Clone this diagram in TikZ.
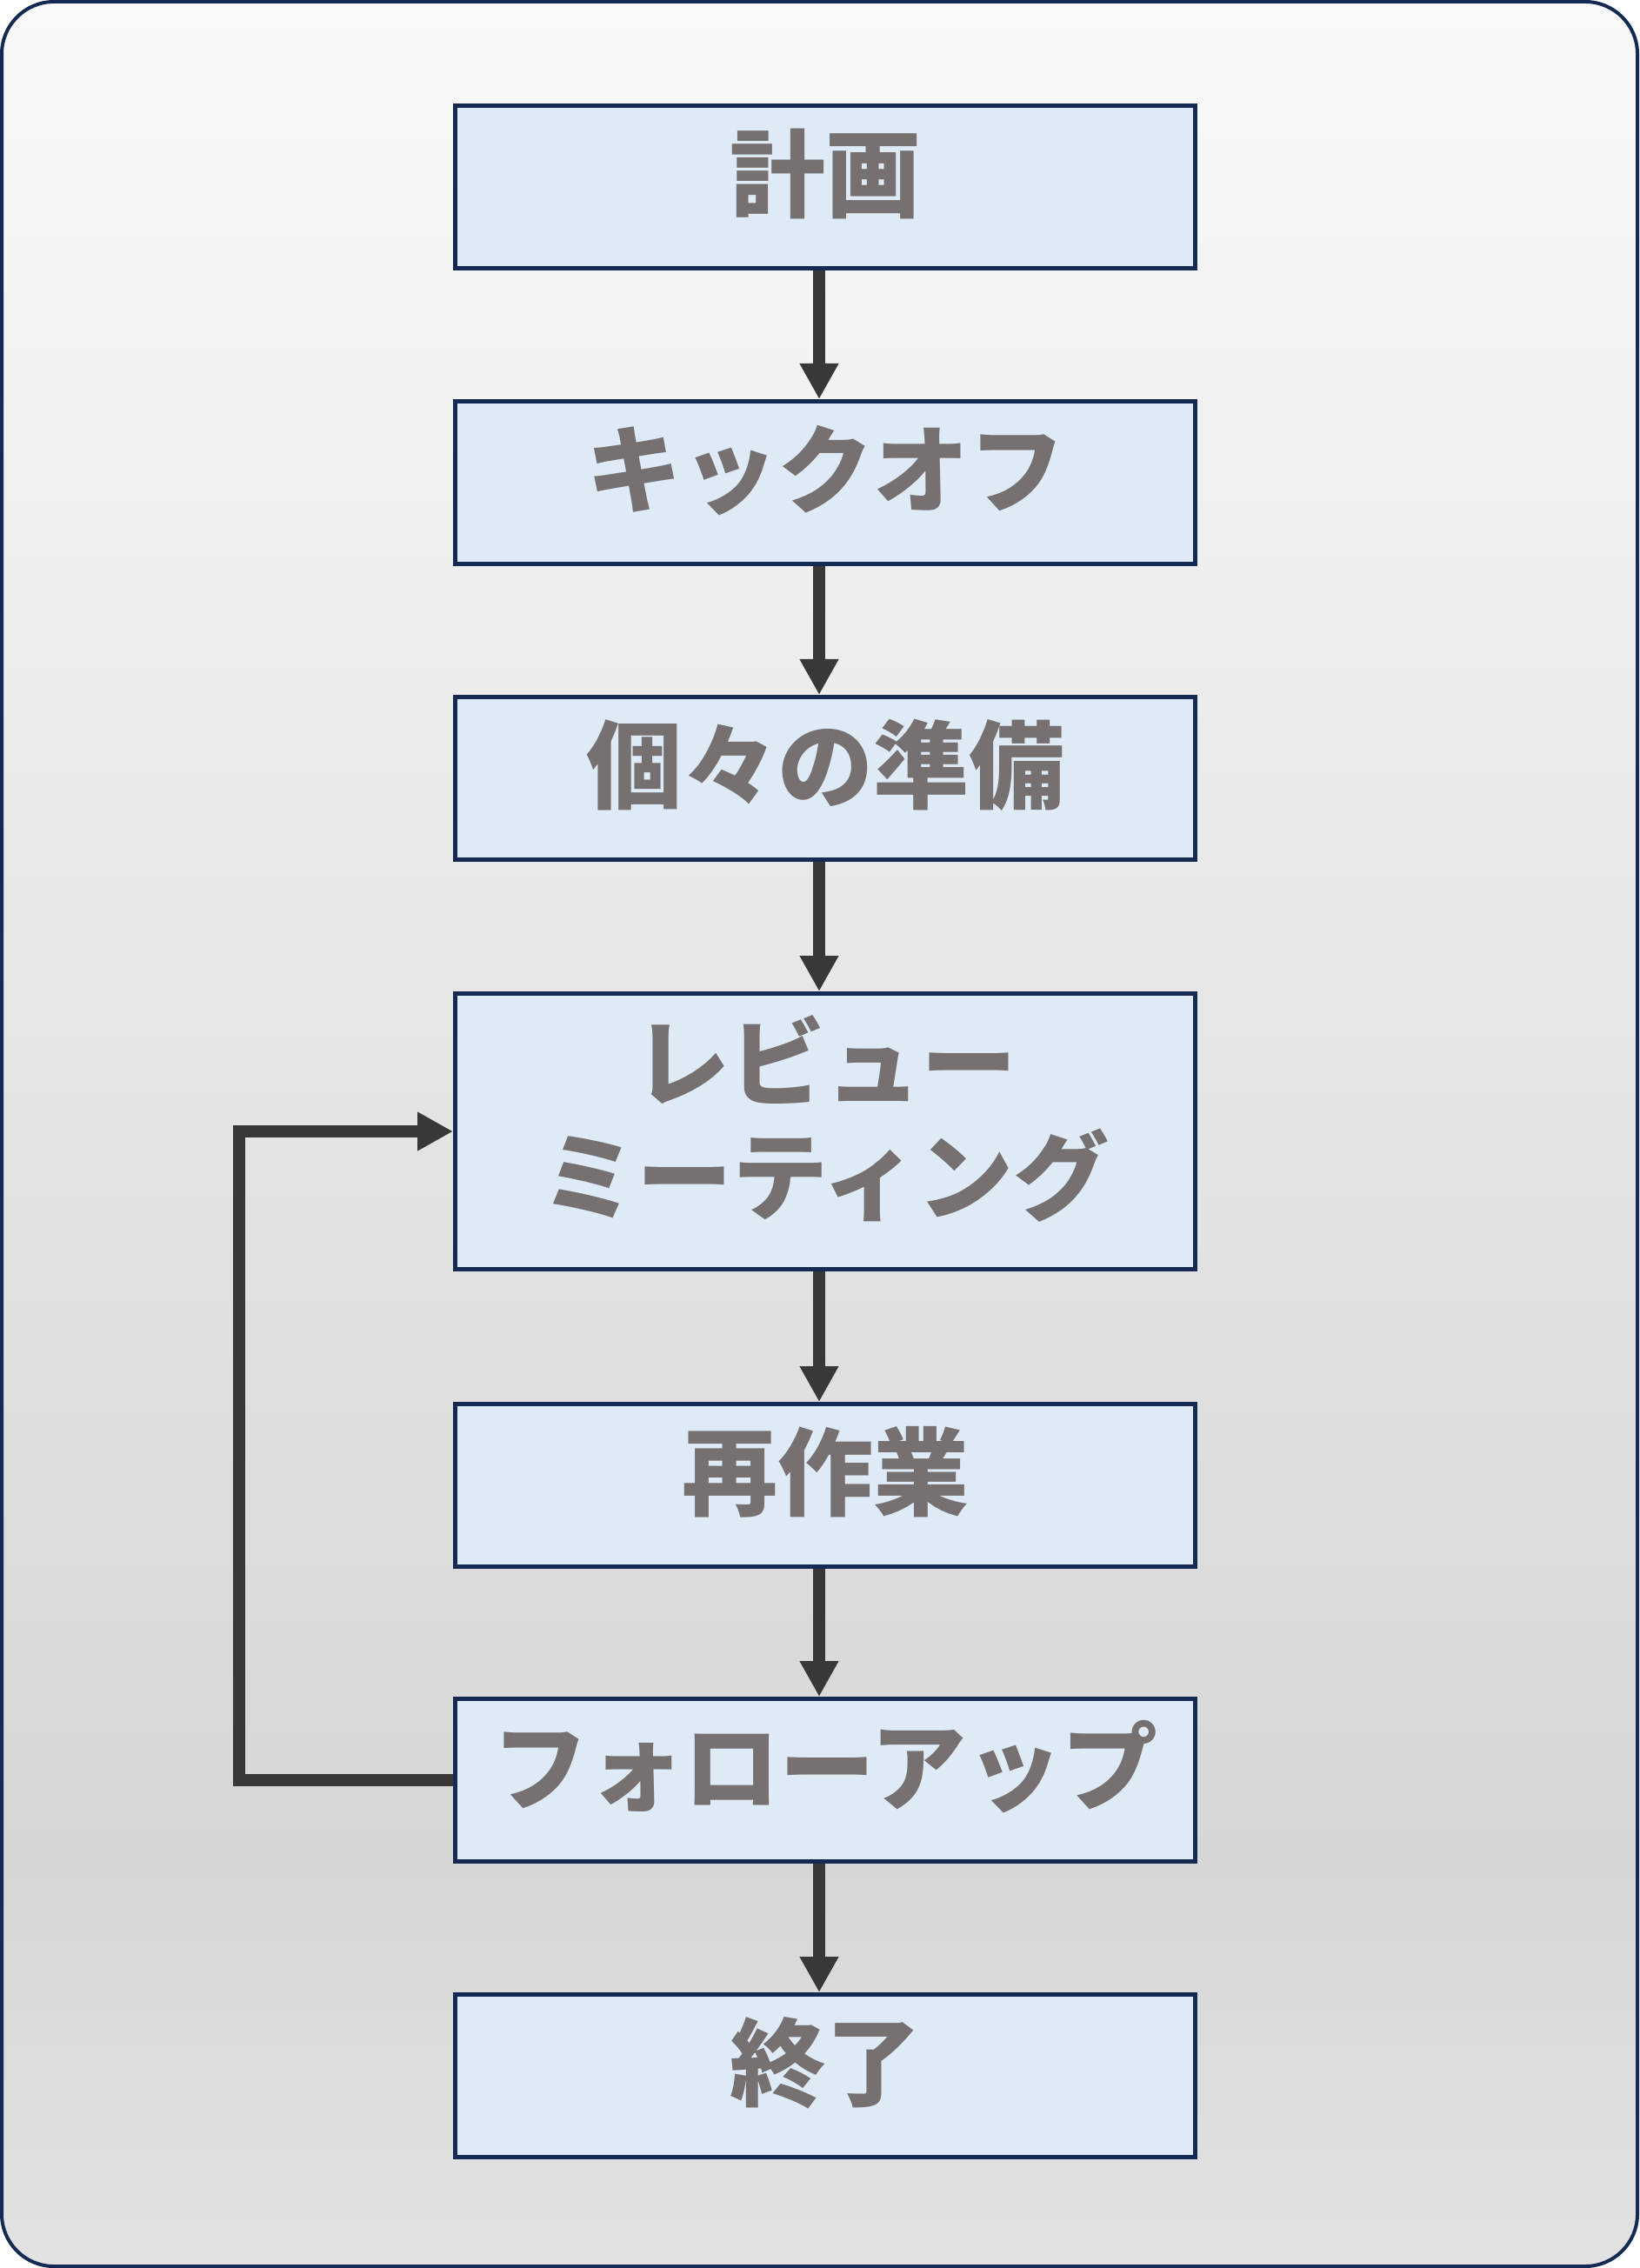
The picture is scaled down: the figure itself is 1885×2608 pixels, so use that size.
\documentclass[tikz,border=0pt]{standalone}
\usepackage{fontspec}
\newfontfamily\jpfont{Noto Sans CJK JP}
\usetikzlibrary{arrows.meta}
\definecolor{boxfill}{RGB}{222,234,246}
\definecolor{boxline}{RGB}{20,42,82}
\definecolor{flowline}{RGB}{57,56,54}
\definecolor{labelgray}{RGB}{118,113,112}
\definecolor{bgtop}{RGB}{249,249,249}
\definecolor{bgmid}{RGB}{214,214,214}
\definecolor{bgbot}{RGB}{226,226,226}
\pgfdeclareverticalshading{bggrad}{100bp}{color(0bp)=(bgbot); color(25bp)=(bgbot); color(34bp)=(bgmid); color(75bp)=(bgtop); color(100bp)=(bgtop)}
\tikzset{
  stage/.style={draw=boxline, line width=1.5pt, fill=boxfill, minimum width=255.3pt, minimum height=56.1pt, inner sep=0pt,
    text=labelgray, font=\jpfont\bfseries\fontsize{33pt}{39.5pt}\selectfont, text height=26pt, text depth=10.2pt, align=center},
  flow/.style={draw=flowline, line width=4.2pt, -{Triangle[length=12.3pt,width=12.6pt]}}
}
\begin{document}
\begin{tikzpicture}[x=0.3pt, y=-0.3pt]
\useasboundingbox (0,0) rectangle (1885,2608);
\shadedraw[shading=bggrad, draw=boxline, line width=1.2pt, rounded corners=18pt] (2,2) rectangle (1883,2606);
% stages
\foreach \n/\y/\t in {b1/215/計画, b2/555/キックオフ, b3/895/個々の準備, b5/1708/再作業, b6/2047/フォローアップ, b7/2387/終了}
  \node[stage] (\n) at (949,\y) {\t};
\node[stage, minimum height=95.1pt, text height={}, text depth={}] (b4) at (949,1301) {レビュー\\ミーティング\rule[-12pt]{0pt}{12pt}};
% arrows
\foreach \a/\b in {b1/b2, b2/b3, b3/b4, b4/b5, b5/b6, b6/b7}
  \draw[flow] ([xshift=-2.1pt]\a.south) -- ([xshift=-2.1pt]\b.north);
\coordinate (turn) at (275,2047);
\draw[flow] (b6.west) -- (turn) |- (b4.west);
\end{tikzpicture}
\end{document}
